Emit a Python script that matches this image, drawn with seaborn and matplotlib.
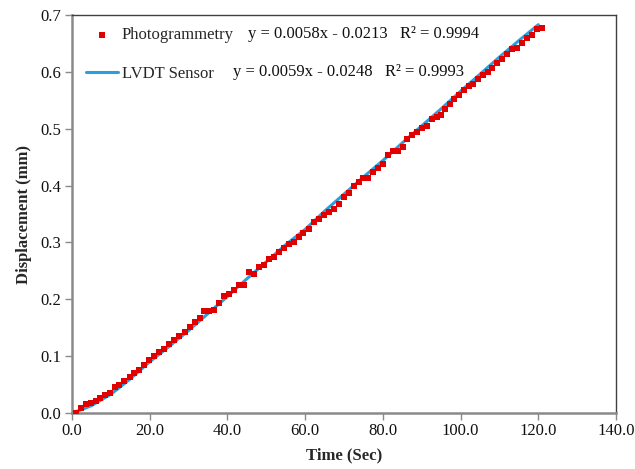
import numpy as np
import pandas as pd
import matplotlib
matplotlib.use("Agg")
import matplotlib.pyplot as plt
import seaborn as sns
from matplotlib.ticker import FormatStrFormatter, MultipleLocator

# photogrammetry readings (time in sec, displacement in mm)
photo_time = [1.0, 2.3, 3.6, 4.8, 6.1, 7.2, 8.5, 9.7, 11.0, 12.2, 13.5, 14.8, 16.0,
              17.3, 18.6, 19.9, 21.2, 22.5, 23.8, 25.0, 26.3, 27.6, 29.0, 30.3, 31.6,
              32.9, 34.0, 35.2, 36.5, 37.8, 39.0, 40.4, 41.7, 42.9, 44.2, 45.6, 46.9,
              48.1, 49.4, 50.6, 52.0, 53.3, 54.6, 55.8, 57.2, 58.4, 59.5, 61.0, 62.3,
              63.6, 64.9, 66.1, 67.4, 68.7, 70.0, 71.3, 72.6, 73.9, 75.0, 76.1, 77.4,
              78.7, 80.0, 81.3, 82.6, 83.9, 85.1, 86.3, 87.6, 88.9, 90.1, 91.3, 92.6,
              93.9, 95.0, 96.0, 97.2, 98.4, 99.7, 100.9, 102.1, 103.2, 104.5, 105.8,
              107.0, 108.1, 109.4, 110.7, 111.9, 113.2, 114.5, 115.9, 117.1, 118.3,
              119.6, 121.0]
photo_disp = [0.000, 0.009, 0.015, 0.018, 0.021, 0.026, 0.031, 0.036, 0.045, 0.050,
              0.057, 0.063, 0.070, 0.076, 0.085, 0.093, 0.100, 0.107, 0.113, 0.121,
              0.128, 0.135, 0.143, 0.151, 0.160, 0.167, 0.179, 0.180, 0.181, 0.193,
              0.206, 0.210, 0.216, 0.225, 0.226, 0.248, 0.245, 0.257, 0.260, 0.271,
              0.275, 0.283, 0.290, 0.298, 0.301, 0.309, 0.316, 0.324, 0.336, 0.342,
              0.348, 0.353, 0.359, 0.368, 0.380, 0.387, 0.400, 0.407, 0.413, 0.414,
              0.424, 0.431, 0.438, 0.453, 0.461, 0.460, 0.468, 0.482, 0.489, 0.495,
              0.501, 0.505, 0.517, 0.521, 0.524, 0.535, 0.543, 0.552, 0.560, 0.568,
              0.575, 0.579, 0.588, 0.595, 0.600, 0.606, 0.615, 0.623, 0.631, 0.640,
              0.642, 0.651, 0.660, 0.665, 0.675, 0.677]

# LVDT sensor trace
lvdt_time = [0, 2.5, 5, 10, 15, 20, 25, 30, 35, 40, 45, 50, 55, 60, 65, 70, 75, 80,
             85, 90, 95, 100, 105, 110, 115, 120]
lvdt_disp = [0.000, 0.006, 0.013, 0.033, 0.060, 0.090, 0.117, 0.145, 0.175, 0.205,
             0.236, 0.266, 0.296, 0.323, 0.355, 0.385, 0.415, 0.444, 0.475, 0.505,
             0.535, 0.566, 0.596, 0.626, 0.655, 0.683]

photo_df = pd.DataFrame({"Time": photo_time, "Displacement": photo_disp})
lvdt_df = pd.DataFrame({"Time": lvdt_time, "Displacement": lvdt_disp})

sns.set_style("white")
plt.rcParams['font.family'] = ['Liberation Serif', 'DejaVu Serif']

fig = plt.figure(figsize=(6.35, 4.69), dpi=100)
ax = fig.add_axes([0.1134, 0.1194, 0.8567, 0.8486])

sns.lineplot(data=lvdt_df, x="Time", y="Displacement", ax=ax, color="#2a9fdc",
             linewidth=2.2, label="LVDT Sensor", zorder=2)
sns.scatterplot(data=photo_df, x="Time", y="Displacement", ax=ax, color="#e00000",
                marker="s", s=20, linewidth=0, label="Photogrammetry", zorder=3)

ax.set_xlim(0, 140)
ax.set_ylim(0, 0.7)
ax.xaxis.set_major_locator(MultipleLocator(20))
ax.yaxis.set_major_locator(MultipleLocator(0.1))
ax.xaxis.set_major_formatter(FormatStrFormatter('%.1f'))
ax.yaxis.set_major_formatter(FormatStrFormatter('%.1f'))

ax.tick_params(axis='both', direction='out', length=5, width=1, color="#8a8a8a",
               labelsize=12, labelcolor="#111111", bottom=True, left=True)
ax.tick_params(axis='x', pad=2)
ax.tick_params(axis='y', pad=3)

for s in ["left", "bottom"]:
    ax.spines[s].set_color("#8a8a8a")
    ax.spines[s].set_linewidth(1.8)
for s in ["top", "right"]:
    ax.spines[s].set_color("#404040")
    ax.spines[s].set_linewidth(1.0)

ax.set_xlabel("Time (Sec)", fontsize=12, fontweight="bold", labelpad=6)
ax.set_ylabel("Displacement (mm)", fontsize=12, fontweight="bold", labelpad=6)

handles, labels = ax.get_legend_handles_labels()
order = [labels.index("Photogrammetry"), labels.index("LVDT Sensor")]
ax.legend([handles[i] for i in order], [labels[i] for i in order],
          loc="upper left", bbox_to_anchor=(0.0257, 0.97), frameon=False,
          fontsize=12, borderpad=0, borderaxespad=0, handlelength=1.95,
          handletextpad=0.2, labelspacing=1.4, markerscale=1.0)

ax.text(0.3235, 0.952, "y = 0.0058x - 0.0213   R\u00b2 = 0.9994", transform=ax.transAxes,
        fontsize=12, va="center", ha="left", color="#111111")
ax.text(0.296, 0.857, "y = 0.0059x - 0.0248   R\u00b2 = 0.9993", transform=ax.transAxes,
        fontsize=12, va="center", ha="left", color="#111111")

fig.savefig("out.png", dpi=100)
